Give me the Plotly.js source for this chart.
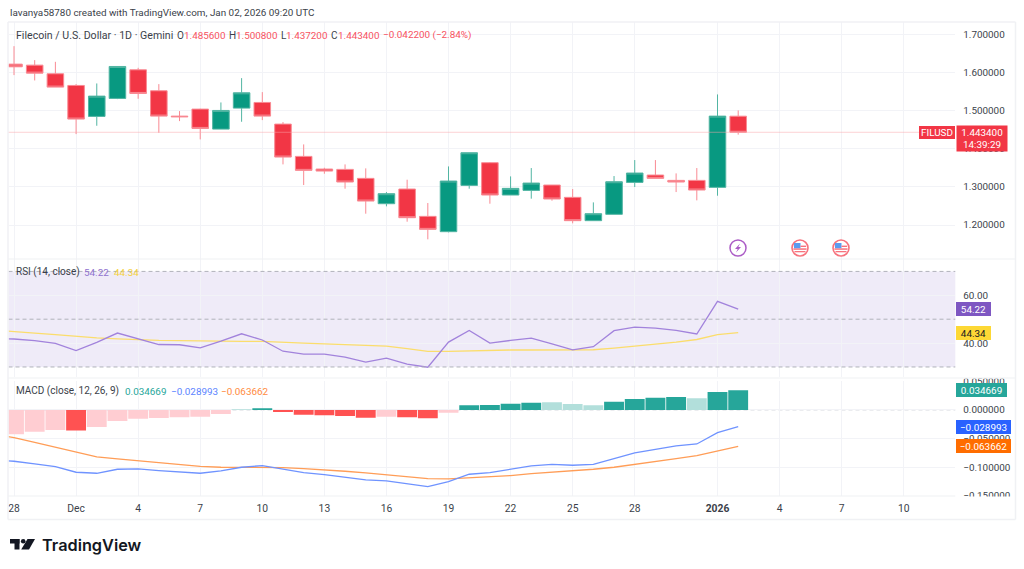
<!DOCTYPE html>
<html><head><meta charset="utf-8">
<script src="https://cdn.plot.ly/plotly-3.0.1.min.js"></script>
<style>html,body{margin:0;padding:0;background:#fff}#c{width:1024px;height:569px}</style>
</head><body><div id="c"></div>
<script>
const days=["2025-11-27","2025-11-28","2025-11-29","2025-11-30","2025-12-01","2025-12-02","2025-12-03","2025-12-04","2025-12-05","2025-12-06","2025-12-07","2025-12-08","2025-12-09","2025-12-10","2025-12-11","2025-12-12","2025-12-13","2025-12-14","2025-12-15","2025-12-16","2025-12-17","2025-12-18","2025-12-19","2025-12-20","2025-12-21","2025-12-22","2025-12-23","2025-12-24","2025-12-25","2025-12-26","2025-12-27","2025-12-28","2025-12-29","2025-12-30","2025-12-31","2026-01-01","2026-01-02"];
const candleDays=days.slice(1);
const open =[1.6222,1.6196,1.5969,1.5663,1.4850,1.5322,1.6073,1.5523,1.4858,1.5042,1.4517,1.5068,1.5217,1.4649,1.3801,1.3469,1.3460,1.3224,1.2559,1.2944,1.2227,1.1825,1.3040,1.3635,1.2787,1.2909,1.3049,1.2726,1.2114,1.2280,1.3119,1.3311,1.3171,1.3171,1.2988,1.4856];
const high =[1.6694,1.6327,1.6283,1.5698,1.5715,1.6161,1.6126,1.5698,1.4990,1.5051,1.5217,1.5855,1.5488,1.4701,1.4115,1.3503,1.3591,1.3486,1.2865,1.3189,1.2577,1.3538,1.3897,1.3652,1.3276,1.3495,1.3049,1.2944,1.2594,1.3285,1.3705,1.3705,1.3355,1.3495,1.5427,1.5008];
const low  =[1.5934,1.5794,1.5619,1.4386,1.4605,1.5304,1.5313,1.4421,1.4727,1.4247,1.4517,1.4710,1.4753,1.3591,1.3049,1.3346,1.2953,1.2297,1.2490,1.2087,1.1624,1.1808,1.2953,1.2559,1.2787,1.2691,1.2638,1.2044,1.2114,1.2280,1.2997,1.3224,1.2865,1.2647,1.2769,1.4372];
const close=[1.6152,1.5986,1.5619,1.4780,1.5383,1.6161,1.5453,1.4858,1.4841,1.4535,1.5007,1.5470,1.4858,1.3783,1.3434,1.3416,1.3128,1.2629,1.2822,1.2192,1.1886,1.3154,1.3897,1.2787,1.2962,1.3101,1.2682,1.2114,1.2297,1.3136,1.3364,1.3224,1.3128,1.2918,1.4858,1.4434];
const rsi=[41.9,41.7,41.0,39.9,36.9,40.3,44.2,41.8,39.4,39.3,38.0,40.8,43.9,41.3,36.6,35.4,35.4,34.1,32.0,33.7,31.2,29.9,40.4,45.3,40.0,41.1,42.1,39.7,37.2,38.5,45.2,46.7,46.3,45.3,43.8,57.5,54.22];
const rsiMA=[45.5,45.0,44.2,43.5,42.7,42.2,41.8,41.4,41.1,41.0,40.8,40.8,40.7,40.7,40.2,40.0,39.7,39.4,39.1,38.7,37.7,36.5,36.5,36.8,37.0,37.1,37.1,37.1,37.1,37.2,37.9,38.7,39.6,40.4,41.5,43.5,44.34];
const hist=[-0.0424,-0.0378,-0.0349,-0.0360,-0.0297,-0.0192,-0.0151,-0.0140,-0.0128,-0.0116,-0.0070,0.0012,0.0030,-0.0035,-0.0081,-0.0093,-0.0105,-0.0134,-0.0116,-0.0128,-0.0145,-0.0047,0.0081,0.0087,0.0110,0.0128,0.0134,0.0105,0.0081,0.0145,0.0192,0.0215,0.0227,0.0203,0.0314,0.034669];
const histFaded=[1,1,1,0,1,1,1,1,1,1,1,1,0,0,0,0,0,0,1,0,0,1,0,0,0,0,1,1,1,0,0,0,0,1,0,0];
const macd=[-0.0870,-0.0895,-0.0942,-0.0988,-0.1087,-0.1105,-0.1035,-0.1029,-0.1058,-0.1076,-0.1105,-0.1064,-0.1000,-0.0971,-0.1035,-0.1093,-0.1128,-0.1169,-0.1221,-0.1238,-0.1285,-0.1337,-0.1250,-0.1122,-0.1093,-0.1035,-0.0977,-0.0948,-0.0965,-0.0948,-0.0855,-0.0750,-0.0686,-0.0628,-0.0593,-0.0395,-0.028993];
const signal=[-0.0420,-0.0483,-0.0564,-0.0651,-0.0744,-0.0820,-0.0855,-0.0890,-0.0919,-0.0948,-0.0983,-0.1000,-0.1000,-0.0994,-0.1006,-0.1023,-0.1041,-0.1070,-0.1099,-0.1128,-0.1163,-0.1198,-0.1203,-0.1186,-0.1169,-0.1145,-0.1110,-0.1087,-0.1058,-0.1035,-0.1000,-0.0953,-0.0901,-0.0849,-0.0797,-0.0715,-0.063662];
const tickDates=["2025-11-28","2025-12-01","2025-12-04","2025-12-07","2025-12-10","2025-12-13","2025-12-16","2025-12-19","2025-12-22","2025-12-25","2025-12-28","2026-01-01","2026-01-04","2026-01-07","2026-01-10"];
const tickLabels=["28","Dec","4","7","10","13","16","19","22","25","28","<b>2026</b>","4","7","10"];
const priceTicks=[1.2,1.3,1.4,1.5,1.6,1.7];
const priceLabels=["1.200000","1.300000","1.400000","1.500000","1.600000","1.700000"];
const rsiTicks=[40,60], rsiLabels=["40.00","60.00"];
const rsiLevels=[70,50,30];
const macdTicks=[0.05,0,-0.05,-0.1,-0.15];
const macdLabels=["0.050000","0.000000","−0.050000","−0.100000","−0.150000"];
const lastPrice=1.4434, lastRsi=54.22, lastMA=44.34, lastHist=0.034669, lastMacd=-0.028993, lastSignal=-0.063662;

const W=1024,H=569;
const px=x=>x/W, py=y=>1-y/H;
const FONT='Roboto, sans-serif';
const TXT='#3b3f4a';
const RED='#f23645',GREEN='#089981',GRID='#f2f3f7';
const NUM=9.9;
const xCommon={type:'date',range:["2025-11-27 17:37","2026-01-12 11:50"],tickmode:'array',tickvals:tickDates,ticktext:tickLabels,showgrid:true,gridcolor:GRID,gridwidth:1,zeroline:false,showline:false,ticks:'',showticklabels:false,rangeslider:{visible:false},domain:[px(8.5),px(955.3)]};
const yCommon={side:'right',tickmode:'array',showgrid:true,gridcolor:GRID,gridwidth:1,zeroline:false,showline:false,ticks:'outside',ticklen:5,tickcolor:'rgba(0,0,0,0)',tickfont:{family:FONT,size:NUM,color:TXT},fixedrange:true};

const traces=[
 {type:'candlestick',x:candleDays,open,high,low,close,xaxis:'x',yaxis:'y',whiskerwidth:0,hoverinfo:'skip',
  increasing:{line:{color:'#52b5a3',width:1},fillcolor:GREEN},decreasing:{line:{color:'#f98a93',width:1},fillcolor:RED}},
 {type:'scatter',mode:'lines',x:days,y:rsiMA,xaxis:'x2',yaxis:'y2',line:{color:'#fbdd6c',width:1.3},hoverinfo:'skip'},
 {type:'scatter',mode:'lines',x:days,y:rsi,xaxis:'x2',yaxis:'y2',line:{color:'#a283dc',width:1.3},hoverinfo:'skip'},
 {type:'bar',x:candleDays,y:hist,xaxis:'x3',yaxis:'y3',hoverinfo:'skip',
  marker:{color:hist.map((v,i)=>v>=0?(histFaded[i]?'#b2dfdb':'#26a69a'):(histFaded[i]?'#ffcdd2':'#ff5252')),line:{width:0}}},
 {type:'scatter',mode:'lines',x:days,y:signal,xaxis:'x3',yaxis:'y3',line:{color:'#ff9d57',width:1.3},hoverinfo:'skip'},
 {type:'scatter',mode:'lines',x:days,y:macd,xaxis:'x3',yaxis:'y3',line:{color:'#6f93ff',width:1.3},hoverinfo:'skip'}
];

const shapes=[];
shapes.push({type:'rect',xref:'x2 domain',yref:'y2',x0:0,x1:1,y0:rsiLevels[2],y1:rsiLevels[0],fillcolor:'rgba(126,87,194,0.12)',line:{width:0},layer:'below'});
rsiLevels.forEach(l=>shapes.push({type:'line',xref:'x2 domain',yref:'y2',x0:0,x1:1,y0:l,y1:l,line:{color:'#b0b2ba',width:1,dash:'4px,3px'},layer:'above'}));
shapes.push({type:'line',xref:'x3 domain',yref:'y3',x0:0,x1:1,y0:0,y1:0,line:{color:'#d6d8de',width:1,dash:'4px,3px'},layer:'below'});
shapes.push({type:'line',xref:'paper',yref:'y',x0:px(8.5),x1:px(920),y0:lastPrice,y1:lastPrice,line:{color:'#f9a3aa',width:1,dash:'1px,1px'},layer:'above'});
const wht=(x0,y0,x1,y1)=>shapes.push({type:'rect',xref:'paper',yref:'paper',x0:px(x0),x1:px(x1),y0:py(y1),y1:py(y0),fillcolor:'#fff',line:{width:0},layer:'above'});
wht(957,370,1013,378.5);
wht(957,496.5,1013,505);
const ln=(x0,y0,x1,y1,c,w)=>shapes.push({type:'line',xref:'paper',yref:'paper',x0:px(x0),x1:px(x1),y0:py(y0),y1:py(y1),line:{color:c,width:w},layer:'above'});
const FR='#f0f1f4';
ln(8,22,1015.5,22,FR,1.5);ln(8,519.5,1015.5,519.5,FR,1.5);ln(8,22,8,519.5,FR,1.5);ln(1015.5,22,1015.5,519.5,FR,1.5);
ln(8,259,1015,259,FR,1.2);ln(8,378,1015,378,FR,1.2);ln(8,496,955.3,496,FR,1.2);
const circle=(cx,cy,r,fill,line,w)=>shapes.push({type:'circle',xref:'paper',yref:'paper',x0:px(cx-r),x1:px(cx+r),y0:py(cy+r),y1:py(cy-r),fillcolor:fill,line:{color:line,width:w},layer:'above'});
const path=(pts,fill)=>shapes.push({type:'path',xref:'paper',yref:'paper',path:'M'+pts.map(p=>px(p[0])+','+py(p[1])).join(' L')+' Z',fillcolor:fill,line:{width:0},layer:'above'});
const box=(x0,y0,x1,y1,f)=>shapes.push({type:'rect',xref:'paper',yref:'paper',x0:px(x0),x1:px(x1),y0:py(y1),y1:py(y0),fillcolor:f,line:{width:0},layer:'above'});
circle(738,248,8,'#fff','#ab5cc6',1.5);
path([[740,243.5],[735,249],[737.7,249],[736,252.5],[741,247],[738.3,247]],'#ab5cc6');
[800,841].forEach(c=>{
 circle(c,248,8,'#fff','#f7727d',1.6);
 box(c-6,244.5,c+6,246,'#fff');box(c-6.6,248.3,c+6.6,249.8,'#f7727d');box(c-5.5,251,c+5.5,252.3,'#f7727d');
 box(c-6,243,c+0.5,248.2,'#5b9bef');box(c+0.5,245.6,c+6,247,'#f7727d');
});
box(10,539,19.5,543.5,'#131722');box(14.5,539,19.5,549.5,'#131722');
circle(23.2,541.2,2.3,'#131722','#131722',0);
path([[27.5,539],[35,539],[29,549.5],[21.2,549.5]],'#131722');

const ann=[];
const note=(text,x,y,size,color,extra)=>ann.push(Object.assign({text,xref:'paper',yref:'paper',x:px(x),y:py(y),xanchor:'left',yanchor:'middle',showarrow:false,font:{family:FONT,size,color},borderpad:0},extra||{}));
const S=10, R='#f7525f';
note('lavanya58780 created with TradingView.com, Jan 02, 2026 09:20 UTC',9,13,9.9,TXT);
note('Filecoin / U.S. Dollar · 1D · Gemini',15,35,10.6,TXT);
[['O',175.5,'1.485600',182.5],['H',227.5,'1.500800',234.8],['L',280,'1.437200',285],['C',330,'1.443400',336.7]].forEach(o=>{note(o[0],o[1],35,S,TXT);note(o[2],o[3],35,NUM,R);});
note('−0.042200 (−2.84%)',382,35,NUM,R);
note('RSI (14, close)',15,272,S,TXT);note('54.22',83,272,NUM,'#8f72cf');note('44.34',113,272,NUM,'#f5d13c');
note('MACD (close, 12, 26, 9)',15,391,S,TXT);note('0.034669',124,391,NUM,'#26a69a');note('−0.028993',170,391,NUM,'#5b84ff');note('−0.063662',220,391,NUM,'#ff8a3d');
note('TradingView',41,544.5,16.3,'#131722',{font:{family:'Inter, sans-serif',size:16.3,color:'#131722',weight:600}});
const pill=(text,x0,x1,yref,yv,hgt,bg,fg)=>ann.push({text,xref:'paper',yref,x:px(x0),y:yv,xanchor:'left',yanchor:'middle',width:x1-x0,height:hgt,align:'center',showarrow:false,bgcolor:bg,borderpad:0,borderwidth:0,font:{family:FONT,size:NUM,color:fg}});
pill('FILUSD',919,955,'y',lastPrice,13,RED,'#fff');
ann.push({text:lastPrice.toFixed(6)+'<br>14:39:29',xref:'paper',yref:'y',x:px(956),y:lastPrice,yshift:-6,xanchor:'left',yanchor:'middle',width:50,height:25,align:'center',showarrow:false,bgcolor:RED,borderpad:0,font:{family:FONT,size:NUM,color:'#fff'}});
pill(lastRsi.toFixed(2),956,991,'y2',lastRsi,14,'#7e57c2','#fff');
pill(lastMA.toFixed(2),956,991,'y2',lastMA,14,'#fdd835','#131722');
pill(lastHist.toFixed(6),956,1007,'y3',lastHist,14,'#26a69a','#fff');
pill('−'+Math.abs(lastMacd).toFixed(6),956,1011,'y3',lastMacd,14,'#2962ff','#fff');
pill('−'+Math.abs(lastSignal).toFixed(6),956,1011,'y3',lastSignal,14,'#ff6d00','#fff');

const layout={width:W,height:H,margin:{l:0,r:0,t:0,b:0,pad:0},paper_bgcolor:'#fff',plot_bgcolor:'#fff',showlegend:false,boxgap:0.2,boxgroupgap:0,bargap:0.04,dragmode:false,hovermode:false,
 xaxis:Object.assign({},xCommon,{anchor:'y'}),
 xaxis2:Object.assign({},xCommon,{anchor:'y2'}),
 xaxis3:Object.assign({},xCommon,{anchor:'y3',showticklabels:true,tickfont:{family:FONT,size:10.3,color:TXT},ticks:'outside',ticklen:3,tickcolor:'rgba(0,0,0,0)'}),
 yaxis:Object.assign({},yCommon,{anchor:'x',domain:[py(259),py(22)],range:[1.1108,1.7328],tickvals:priceTicks,ticktext:priceLabels}),
 yaxis2:Object.assign({},yCommon,{anchor:'x2',domain:[py(377),py(259)],range:[25.8,75.2],tickvals:rsiTicks,ticktext:rsiLabels}),
 yaxis3:Object.assign({},yCommon,{anchor:'x3',domain:[py(496),py(380.5)],range:[-0.1502,0.0515],tickvals:macdTicks,ticktext:macdLabels}),
 shapes,annotations:ann};
Plotly.newPlot('c',traces,layout,{displayModeBar:false,staticPlot:true});
</script></body></html>
